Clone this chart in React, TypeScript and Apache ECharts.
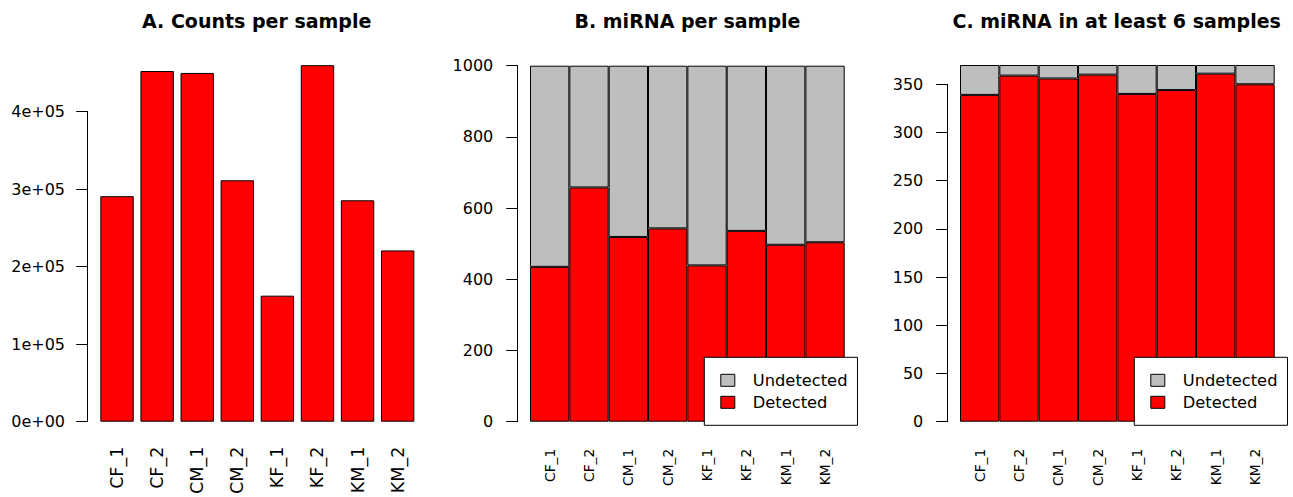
import React, { useEffect, useRef } from "react";
import * as echarts from "echarts";

const samples = ["CF_1", "CF_2", "CM_1", "CM_2", "KF_1", "KF_2", "KM_1", "KM_2"];
const countsA = [291000, 452500, 450000, 311500, 162600, 460000, 285700, 221000];
const countTickLabelsA = ["0e+00", "1e+05", "2e+05", "3e+05", "4e+05"];
const detectedB = [435, 658, 519, 543, 439, 536, 497, 504];
const undetectedB = [565, 342, 481, 457, 561, 464, 503, 496];
const detectedC = [339, 359, 356, 360, 340, 344, 361, 350];
const undetectedC = [31, 11, 14, 10, 30, 26, 9, 20];
const titles = ["A. Counts per sample", "B. miRNA per sample", "C. miRNA in at least 6 samples"];

const FONT = "DejaVu Sans";
const RED = "#FF0000";
const GRAY = "#BEBEBE";

export default function App() {
  const ref = useRef<HTMLDivElement>(null);
  useEffect(() => {
    if (!ref.current) return;
    const chart = echarts.init(ref.current, null, { renderer: "svg" });
    const bottom = 75.3;
    const hiddenX = (g: number) => ({ type: "value", gridIndex: g, show: false, min: 0, max: 1 });
    const catX = (g: number, fs: number, margin: number) => ({
      type: "category",
      gridIndex: g,
      data: samples,
      axisLine: { show: false },
      axisTick: { show: false },
      splitLine: { show: false },
      axisLabel: { rotate: 90, margin, fontSize: fs, fontFamily: FONT, color: "#000", interval: 0 },
    });
    const hiddenY = (g: number, max: number) => ({ type: "value", gridIndex: g, min: 0, max, show: false, splitLine: { show: false } });
    const axisY = (g: number, max: number, interval: number, margin: number, fmt: (v: number) => string) => ({
      type: "value",
      gridIndex: g,
      min: 0,
      max,
      interval,
      splitLine: { show: false },
      axisLine: { show: true, lineStyle: { color: "#000", width: 1 } },
      axisTick: { show: true, length: 11.5, lineStyle: { color: "#000", width: 1 } },
      axisLabel: { margin, fontSize: 16, fontFamily: FONT, color: "#000", formatter: fmt },
    });
    const plain = (v: number) => String(v);
    const legend = (left: number) => ({
      left,
      top: 357.3,
      orient: "vertical",
      data: ["Undetected", "Detected"],
      backgroundColor: "#fff",
      borderColor: "#000",
      borderWidth: 1,
      borderRadius: 0,
      padding: [15, 10, 15, 16],
      itemWidth: 14,
      itemHeight: 12,
      itemGap: 6,
      selectedMode: false,
      icon: "rect",
      itemStyle: { borderColor: "#000", borderWidth: 1 },
      textStyle: { fontFamily: FONT, fontSize: 16.3, color: "#000", lineHeight: 16, padding: [0, 0, 0, 13] },
    });
    const titleStyle = { fontFamily: FONT, fontWeight: "bold", fontSize: 19, color: "#000" };
    const barStyle = (c: string) => ({ color: c, borderColor: "#000", borderWidth: 1 });
    const grid = (o: any) => ({ ...o, containLabel: false, outerBoundsMode: "none" });

    chart.setOption({
      animation: false,
      backgroundColor: "#fff",
      title: [
        { text: titles[0], left: 142, top: 11, padding: 0, textStyle: titleStyle },
        { text: titles[1], left: 574.5, top: 11, padding: 0, textStyle: titleStyle },
        { text: titles[2], left: 952.5, top: 11, padding: 0, textStyle: titleStyle },
      ],
      grid: [
        grid({ left: 97, right: 875.3, top: 57.45, bottom }),
        grid({ left: 530, right: 448.3, top: 65.7, bottom }),
        grid({ left: 960, right: 18.3, top: 65, bottom }),
        grid({ left: 87.7, width: 5, top: 111.7, bottom }),
        grid({ left: 517.7, width: 5, top: 65.7, bottom }),
        grid({ left: 947.7, width: 5, top: 84.3, bottom }),
      ],
      xAxis: [catX(0, 17.5, 25), catX(1, 13.8, 27), catX(2, 13.8, 27), hiddenX(3), hiddenX(4), hiddenX(5)],
      yAxis: [
        hiddenY(0, 470000),
        hiddenY(1, 1000),
        hiddenY(2, 370),
        axisY(3, 400000, 100000, 22.7, (v: number) => countTickLabelsA[Math.round(v / 100000)]),
        axisY(4, 1000, 200, 24.4, plain),
        axisY(5, 350, 50, 24.4, plain),
      ],
      legend: [legend(704.3), legend(1134.3)],
      series: [
        { type: "bar", name: "Counts", xAxisIndex: 0, yAxisIndex: 0, data: countsA, barCategoryGap: "16.7%", itemStyle: barStyle(RED) },
        { type: "bar", name: "Detected", stack: "B", xAxisIndex: 1, yAxisIndex: 1, data: detectedB, barCategoryGap: "0%", itemStyle: barStyle(RED) },
        { type: "bar", name: "Undetected", stack: "B", xAxisIndex: 1, yAxisIndex: 1, data: undetectedB, barCategoryGap: "0%", itemStyle: barStyle(GRAY) },
        { type: "bar", name: "Detected", stack: "C", xAxisIndex: 2, yAxisIndex: 2, data: detectedC, barCategoryGap: "0%", itemStyle: barStyle(RED) },
        { type: "bar", name: "Undetected", stack: "C", xAxisIndex: 2, yAxisIndex: 2, data: undetectedC, barCategoryGap: "0%", itemStyle: barStyle(GRAY) },
      ],
    });
    return () => chart.dispose();
  }, []);
  return <div ref={ref} style={{ position: "fixed", left: 0, top: 0, width: 1293, height: 497 }} />;
}
